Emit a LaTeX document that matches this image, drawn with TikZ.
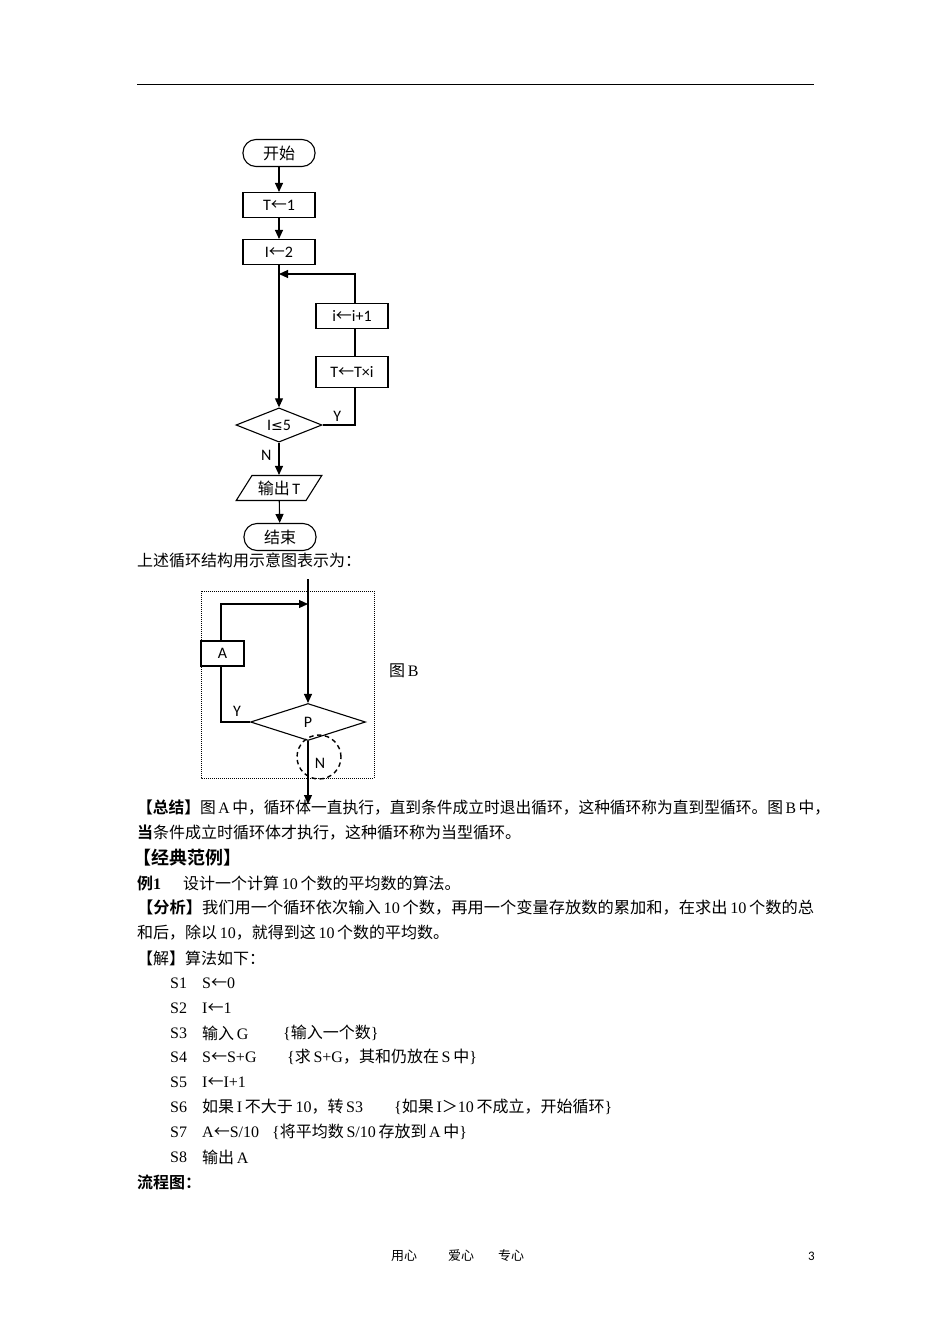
\documentclass[tikz,border=0pt]{standalone}
\usepackage{fontspec}
\usepackage{graphicx}
\setmainfont{Liberation Serif}
\newfontfamily\cjk[BoldFont={Noto Sans CJK SC Bold}]{Noto Sans CJK SC}
\newfontfamily\fc{Carlito}
\newfontfamily\dvs{DejaVu Sans}
\usetikzlibrary{shapes.geometric,arrows.meta}
\newcommand\lar{{\cjk ←}}
\newcommand\rl[1]{{\rmfamily #1}}
\begin{document}
\begin{tikzpicture}[x=1pt,y=-1pt,
  fl/.style={draw, line width=1.1pt, font=\fc\fontsize{16}{18}\selectfont, inner sep=0pt},
  box/.style={fl, rectangle, minimum width=72pt, minimum height=25pt},
  term/.style={fl, rectangle, rounded corners=13pt, minimum width=72pt, minimum height=27pt},
  dia/.style={fl, diamond, minimum width=86pt, minimum height=34pt},
  io/.style={fl, trapezium, trapezium left angle=50, trapezium right angle=130, trapezium stretches=true, minimum width=86pt, minimum height=25pt},
  arr/.style={line width=1.1pt, -{Triangle[length=9pt,width=8pt]}},
  ln/.style={line width=1.1pt},
  lab/.style={inner sep=0pt, font=\fc\fontsize{16}{18}\selectfont},
  txt/.style={anchor=west, inner sep=0pt, font=\cjk\fontsize{16}{18}\selectfont},
]
\fill[white] (0,0) rectangle (950,1344);
\useasboundingbox (0,0) rectangle (950,1344);

% top rule
\coordinate (rl) at (137,84);
\coordinate (rr) at (814,84);
\draw[line width=0.9pt] (rl) -- (rr);

% ---------- flowchart A ----------
\node[term] (start) at (279,153) {{\cjk 开始}};
\node[box] (t1) at (279,205) {T\lar1};
\node[box] (i2) at (279,252) {I\lar2};
\node[box] (inc) at (352,316) {i\lar i+1};
\node[box, minimum height=31pt] (mul) at (352,372) {T\lar T×i};
\node[dia] (cond) at (279,425) {I{\dvs\fontsize{14}{16}\selectfont ≤}5};
\node[io] (out) at (279,488) {{\cjk 输出}\,T};
\node[term] (end) at (280,537) {{\cjk 结束}};

\coordinate (yc) at (355,425);
\coordinate (top) at (355,274);
\coordinate (join) at (279,274);

\draw[arr] (start) -- (t1);
\draw[arr] (t1) -- (i2);
\draw[arr] (i2) -- (cond);
\draw[arr] (cond) -- node[lab, left=7pt, pos=0.4] {N} (out);
\draw[arr] (out) -- (end);
\draw[ln] (cond.east) -- node[lab, above=3pt, pos=0.45] {Y} (yc) -- (yc |- mul.south);
\draw[ln] (yc |- mul.north) -- (yc |- inc.south);
\draw[arr] (yc |- inc.north) -- (top) -- (join);

% ---------- caption ----------
\node[txt] (cap) at (137,560) {上述循环结构用示意图表示为：};

% ---------- figure B ----------
\draw[line width=1pt, dash pattern=on 1pt off 1pt] (201,591) rectangle (374,778);
\node[fl, diamond, minimum width=115pt, minimum height=37pt] (p) at (308,722) {P};
\node[fl, rectangle, minimum width=43pt, minimum height=25pt] (a) at (222.5,653.5) {A};
\coordinate (bin) at (308,579);
\coordinate (bout) at (308,804);
\coordinate (bl) at (221,604);
\coordinate (br) at (308,604);
\coordinate (by) at (221,722);
\draw[arr] (bin) -- (p.north);
\draw[arr] (p.south) -- (bout);
\draw[arr] (a.north -| bl) -- (bl) -- (br);
\draw[ln] (a.south -| by) -- (by) -- node[lab, above=5pt, pos=0.55] {Y} (p.west);
\node[circle, draw, line width=1.4pt, dash pattern=on 4.5pt off 3.5pt, minimum size=44pt, inner sep=0pt] (nc) at (319,757) {};
\node[lab] (nl) at (320,763) {N};
\node[txt] (figb) at (389,671) {图\,\rl{B}};

% ---------- text ----------
\node[txt] (s1) at (137,808) {\resizebox{693pt}{\height}{{\bfseries 【总结】}图\rl{\,A\,}中，循环体一直执行，直到条件成立时退出循环，这种循环称为直到型循环。图\rl{\,B\,}中，}};
\node[txt] (s2) at (137,833) {{\bfseries 当}条件成立时循环体才执行，这种循环称为当型循环。};
\node[txt, font=\cjk\bfseries\fontsize{18}{20}\selectfont] (jd) at (133,858) {【经典范例】};
\node[txt] (e1) at (137,883) {{\bfseries 例\rl{\bfseries 1}}};
\node[txt] (e1b) at (183,883) {设计一个计算\rl{\,10\,}个数的平均数的算法。};
\node[txt] (f1) at (137,908) {\resizebox{677pt}{\height}{{\bfseries 【分析】}我们用一个循环依次输入\rl{\,10\,}个数，再用一个变量存放数的累加和，在求出\rl{\,10\,}个数的总}};
\node[txt] (f2) at (137,933) {和后，除以\rl{\,10}，就得到这\rl{\,10\,}个数的平均数。};
\node[txt] (jie) at (137,958) {【解】算法如下：};

\node[txt] (l1) at (170,983) {\rl{S1}};
\node[txt] (c1) at (202,983) {\rl{S}\lar\rl{0}};
\node[txt] (l2) at (170,1008) {\rl{S2}};
\node[txt] (c2) at (202,1008) {\rl{I}\lar\rl{1}};
\node[txt] (l3) at (170,1033) {\rl{S3}};
\node[txt] (c3) at (202,1033) {输入\rl{\,G}};
\node[txt] (m3) at (283,1033) {\rl{\{}输入一个数\rl{\}}};
\node[txt] (l4) at (170,1057) {\rl{S4}};
\node[txt] (c4) at (202,1057) {\rl{S}\lar\rl{S+G}};
\node[txt] (m4) at (287,1057) {\rl{\{}求\rl{\,S+G}，其和仍放在\rl{\,S\,}中\rl{\}}};
\node[txt] (l5) at (170,1082) {\rl{S5}};
\node[txt] (c5) at (202,1082) {\rl{I}\lar\rl{I+1}};
\node[txt] (l6) at (170,1107) {\rl{S6}};
\node[txt] (c6) at (202,1107) {如果\rl{\,I\,}不大于\rl{\,10}，转\rl{\,S3}};
\node[txt] (m6) at (394,1107) {\rl{\{}如果\rl{\,I}＞\rl{10\,}不成立，开始循环\rl{\}}};
\node[txt] (l7) at (170,1132) {\rl{S7}};
\node[txt] (c7) at (202,1132) {\rl{A}\lar\rl{S/10}};
\node[txt] (m7) at (272,1132) {\rl{\{}将平均数\rl{\,S/10\,}存放到\rl{\,A\,}中\rl{\}}};
\node[txt] (l8) at (170,1157) {\rl{S8}};
\node[txt] (c8) at (202,1157) {输出\rl{\,A}};
\node[txt] (lct) at (137,1182) {{\bfseries 流程图：}};

% ---------- footer ----------
\node[txt, font=\cjk\fontsize{13}{15}\selectfont] (ft) at (391,1256) {用心\hspace{31pt}爱心\hspace{24pt}专心};
\node[txt, font=\fc\fontsize{13}{15}\selectfont] (pg) at (808,1256) {3};
\end{tikzpicture}
\end{document}
